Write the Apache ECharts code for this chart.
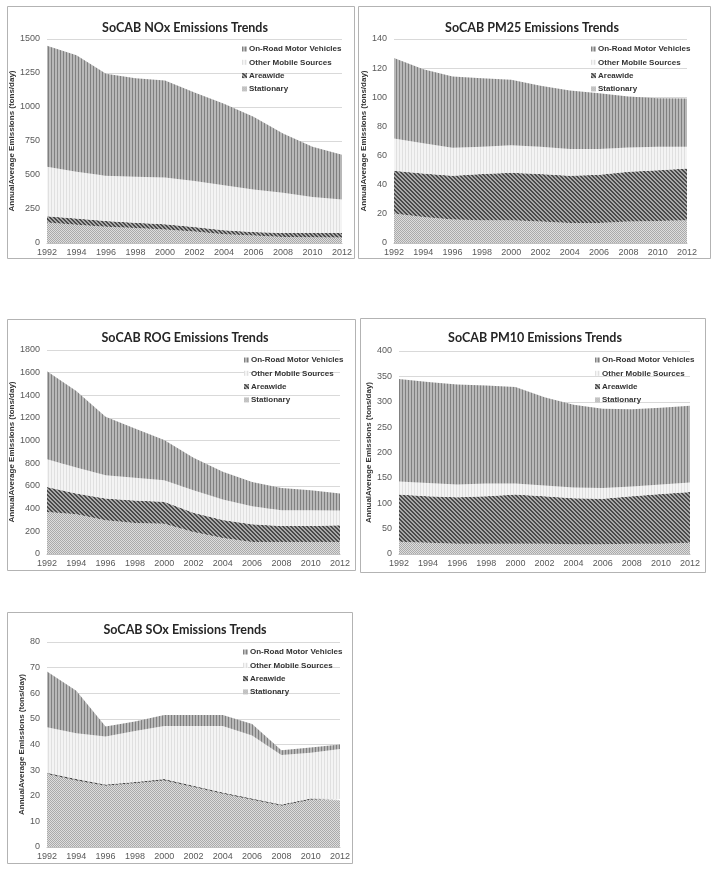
<!DOCTYPE html>
<html><head><meta charset="utf-8">
<script src="https://cdn.jsdelivr.net/npm/echarts@6/dist/echarts.min.js"></script>
<style>html,body{margin:0;padding:0;background:#fff}#c{width:714px;height:873px}</style>
</head><body><div id="c"></div>
<script>
const years = ['1992','1994','1996','1998','2000','2002','2004','2006','2008','2010','2012'];
const seriesNames = ['On-Road Motor Vehicles','Other Mobile Sources','Areawide','Stationary'];

const noxStationary  = [150,135,120,110,100,85,65,55,45,42,40];
const noxAreawide    = [47,45,42,38,38,33,28,26,29,32,34];
const noxOtherMobile = [364,344,332,339,344,337,332,312,295,265,246];
const noxOnRoad      = [889,856,751,725,713,651,598,536,437,369,328];

const pm25Stationary  = [20.2,17.9,16.1,15.6,15.6,14.7,13.8,13.8,14.7,15.1,15.6];
const pm25Areawide    = [29.4,29.8,30.0,31.7,32.6,32.6,32.3,33.0,34.2,34.9,35.6];
const pm25OtherMobile = [22.2,20.7,19.3,18.8,18.8,18.8,18.4,17.7,16.7,16.1,14.9];
const pm25OnRoad      = [55.2,50.9,48.9,47.0,45.0,41.8,40.2,38.3,34.9,33.3,33.1];

const rogStationary  = [371,351,298,274,268,194,141,106,106,106,106];
const rogAreawide    = [221,182,191,197,192,171,159,156,141,141,147];
const rogOtherMobile = [245,230,206,201,191,198,180,159,139,139,130];
const rogOnRoad      = [775,675,516,436,354,286,245,215,197,177,150];

const pm10Stationary  = [24,22,20,20,20,20,19,19,20,20,22];
const pm10Areawide    = [93,92,92,94,97,94,91,90,94,98,100];
const pm10OtherMobile = [26,26,25,25,22,21,21,21,19,19,19];
const pm10OnRoad      = [202,199,197,193,190,174,163,156,152,151,151];

const soxStationary  = [28.5,26,23.9,24.9,26,23.4,20.8,18.4,16.1,18.4,18.2];
const soxAreawide    = [0.5,0.5,0.5,0.5,0.5,0.5,0.5,0.5,0.5,0.5,0.5];
const soxOtherMobile = [17.7,17.9,18.7,19.9,20.7,23.3,25.9,24.6,19.3,17.9,19.5];
const soxOnRoad      = [21.8,16.6,3.9,3.7,4.3,4.3,4.3,4.5,1.9,2.0,1.8];

const titles = ['SoCAB NOx Emissions Trends','SoCAB PM25 Emissions Trends','SoCAB ROG Emissions Trends','SoCAB PM10 Emissions Trends','SoCAB SOx Emissions Trends'];
const yMax = [1500,140,1800,400,80];
const yInterval = [250,20,200,50,10];
const chartData = [
  [noxStationary,noxAreawide,noxOtherMobile,noxOnRoad],
  [pm25Stationary,pm25Areawide,pm25OtherMobile,pm25OnRoad],
  [rogStationary,rogAreawide,rogOtherMobile,rogOnRoad],
  [pm10Stationary,pm10Areawide,pm10OtherMobile,pm10OnRoad],
  [soxStationary,soxAreawide,soxOtherMobile,soxOnRoad]
];

// layout (pixels)
const boxes = [
  {x:7,y:6,w:347,h:252, pl:47,pr:342,pt:39,pb:243, tx:180,ty:16, lx:242,ly:44, ng:24},
  {x:358,y:6,w:352,h:252, pl:394,pr:687,pt:39,pb:243, tx:527,ty:16, lx:591,ly:44, ng:19},
  {x:7,y:319,w:348,h:251, pl:47,pr:340,pt:350,pb:554, tx:180,ty:326, lx:244,ly:355, ng:24},
  {x:360,y:318,w:345,h:254, pl:399,pr:690,pt:351,pb:554, tx:530,ty:326, lx:595,ly:355, ng:20},
  {x:7,y:612,w:345,h:251, pl:47,pr:340,pt:642,pb:847, tx:180,ty:618, lx:243,ly:647, ng:18}
];

function makePattern(w,h,fn){
  const c=document.createElement('canvas'); c.width=w; c.height=h;
  const ctx=c.getContext('2d');
  for(let y=0;y<h;y++)for(let x=0;x<w;x++){ctx.fillStyle=fn(x,y);ctx.fillRect(x,y,1,1);}
  return {image:c,repeat:'repeat'};
}
const patOnRoad = makePattern(3,1,(x)=> x===0?'#808080':'#b8b8b8');
const patOther  = makePattern(3,1,(x)=> x===0?'#e0e0e0':'#f4f4f4');
const patArea   = makePattern(4,4,(x,y)=> ((x-y+8)%4<2)?'#4a4a4a':'#a8a8a8');
const patStat   = makePattern(2,2,(x,y)=> ((x+y)%2===0)?'#aaaaaa':'#dddddd');
const patterns = [patStat,patArea,patOther,patOnRoad]; // bottom to top
const legendPatterns = {'On-Road Motor Vehicles':patOnRoad,'Other Mobile Sources':patOther,'Areawide':patArea,'Stationary':patStat};

const option = {
  animation:false,
  backgroundColor:'#fff',
  title:[], grid:[], xAxis:[], yAxis:[], legend:[], series:[], graphic:[]
};
boxes.forEach((b,i)=>{
  option.graphic.push({type:'rect',shape:{x:b.x+0.5,y:b.y+0.5,width:b.w,height:b.h},style:{fill:null,stroke:'#b3b3b3',lineWidth:1},z:-1});
  option.title.push({text:titles[i],left:b.tx,top:b.ty,textAlign:'center',
    textStyle:{fontFamily:'Lato',fontWeight:'bold',fontSize:12.5,color:'#262626'}});
  option.grid.push({left:b.pl,top:b.pt,width:b.pr-b.pl,height:b.pb-b.pt,containLabel:false});
  option.xAxis.push({type:'category',gridIndex:i,data:years,boundaryGap:false,
    axisLine:{lineStyle:{color:'#bfbfbf'}},axisTick:{show:false},
    axisLabel:{fontFamily:'Liberation Sans',fontSize:9,color:'#595959',margin:5}});
  option.yAxis.push({type:'value',gridIndex:i,min:0,max:yMax[i],interval:yInterval[i],
    name:'AnnualAverage Emissions (tons/day)',nameLocation:'middle',nameGap:b.ng,
    nameTextStyle:{fontFamily:'Liberation Sans',fontWeight:'bold',fontSize:8,color:'#333'},
    axisLine:{show:false},axisTick:{show:false},
    axisLabel:{fontFamily:'Liberation Sans',fontSize:9,color:'#595959',margin:7,formatter:v=>String(v)},
    splitLine:{lineStyle:{color:'#d9d9d9'}}});
  option.legend.push({orient:'vertical',left:b.lx,top:b.ly,itemWidth:5,itemHeight:5,itemGap:3.3,
    icon:'rect',padding:0,selectedMode:false,
    data:seriesNames.map(n=>({name:n,itemStyle:{color:legendPatterns[n]}})),
    textStyle:{fontFamily:'Liberation Sans',fontWeight:'bold',fontSize:8,color:'#333',lineHeight:10,padding:[0,0,0,-3]}});
  const names=['Stationary','Areawide','Other Mobile Sources','On-Road Motor Vehicles'];
  chartData[i].forEach((arr,k)=>{
    option.series.push({type:'line',name:names[k],xAxisIndex:i,yAxisIndex:i,stack:'s'+i,
      data:arr,showSymbol:false,symbol:'none',lineStyle:{width:0,opacity:0},
      itemStyle:{color:['#c0c0c0','#777','#eee','#a0a0a0'][k]},
      areaStyle:{color:patterns[k],opacity:1}});
  });
});
const chart = echarts.init(document.getElementById('c'),null,{renderer:'canvas'});
chart.setOption(option);
</script></body></html>
